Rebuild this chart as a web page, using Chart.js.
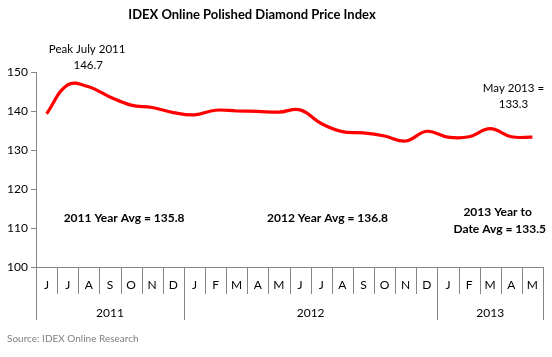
<!DOCTYPE html>
<html><head><meta charset="utf-8">
<script src="https://cdn.jsdelivr.net/npm/chart.js@4/dist/chart.umd.min.js"></script>
<style>html,body{margin:0;padding:0;background:#fff}#wrap{width:552px;height:357px}</style>
</head><body><div id="wrap"><canvas id="c" width="552" height="357"></canvas></div>
<script>
const months = ['J','J','A','S','O','N','D','J','F','M','A','M','J','J','A','S','O','N','D','J','F','M','A','M'];
const indexValues = [139.3,146.7,146.2,143.6,141.5,140.9,139.6,139.0,140.2,140.0,139.9,139.7,140.3,136.8,134.7,134.4,133.6,132.3,134.8,133.3,133.4,135.5,133.4,133.3];
const years = ['2011','2012','2013'];
const yearStarts = [0,7,19];
const yTicks = [100,110,120,130,140,150];

const FONT = 'Lato, "Open Sans", sans-serif';
const GRAY = '#868686';

const overlay = {
  id:'overlay',
  afterDraw(chart){
    const {ctx, chartArea:a, scales:{x,y}} = chart;
    const step = x.getPixelForValue(1) - x.getPixelForValue(0);
    const edge = i => x.getPixelForValue(0) - step/2 + i*step;
    ctx.save();
    ctx.strokeStyle = GRAY; ctx.lineWidth = 1;
    for(let i=0;i<=months.length;i++){
      const isYear = yearStarts.includes(i) || i===months.length;
      const px = Math.round(edge(i))+0.5;
      ctx.beginPath(); ctx.moveTo(px,a.bottom); ctx.lineTo(px,a.bottom+(isYear?53:27)); ctx.stroke();
    }
    ctx.fillStyle = '#000'; ctx.textAlign='center'; ctx.textBaseline='middle';
    ctx.font = '12px '+FONT;
    years.forEach((yr,k)=>{
      const s = yearStarts[k], e = k+1<yearStarts.length?yearStarts[k+1]:months.length;
      ctx.fillText(yr,(edge(s)+edge(e))/2,a.bottom+46);
    });
    // title
    ctx.font = 'bold 13px '+FONT;
    ctx.fillText('IDEX Online Polished Diamond Price Index',252,15);
    // annotations
    const at = (i,v)=>[x.getPixelForValue(0)+i*step, y.getPixelForValue(v)];
    ctx.font = '11.5px '+FONT;
    let p = at(1.92,155.9); ctx.fillText('Peak July 2011',p[0],p[1]);
    p = at(1.97,151.6); ctx.fillText('146.7',p[0],p[1]);
    p = at(22.1,145.8); ctx.fillText('May 2013 =',p[0],p[1]);
    p = at(22.1,141.7); ctx.fillText('133.3',p[0],p[1]);
    ctx.font = 'bold 12px '+FONT;
    p = at(3.67,112.6); ctx.fillText('2011 Year Avg = 135.8',p[0],p[1]);
    p = at(13.3,112.6); ctx.fillText('2012 Year Avg = 136.8',p[0],p[1]);
    p = at(21.35,114.1); ctx.fillText('2013 Year to',p[0],p[1]);
    p = at(21.45,109.7); ctx.fillText('Date Avg = 133.5',p[0],p[1]);
    // source
    ctx.textAlign='left'; ctx.fillStyle='#7f7f7f'; ctx.font='10px '+FONT;
    ctx.fillText('Source: IDEX Online Research',7,339);
    ctx.restore();
  }
};

new Chart(document.getElementById('c'),{
  type:'line',
  data:{labels:months,datasets:[{data:indexValues,borderColor:'#ff0000',borderWidth:3.2,tension:0.4,pointRadius:0,fill:false}]},
  options:{
    responsive:false,animation:false,
    layout:{padding:{top:72,right:9,left:0,bottom:0}},
    plugins:{legend:{display:false},title:{display:false},tooltip:{enabled:false}},
    scales:{
      x:{offset:true,
        grid:{display:false,drawTicks:false},
        border:{display:true,color:GRAY},
        ticks:{padding:11,color:'#000',font:{family:FONT,size:12},maxRotation:0,autoSkip:false},
        afterFit(s){s.height=90;}
      },
      y:{min:100,max:150,
        afterBuildTicks(s){s.ticks=yTicks.map(v=>({value:v}));},
        grid:{drawOnChartArea:false,tickLength:5,color:GRAY},
        border:{display:true,color:GRAY},
        ticks:{padding:3,color:'#000',font:{family:FONT,size:12}},
        afterFit(s){s.width=36;}
      }
    }
  },
  plugins:[overlay]
});
</script></body></html>
